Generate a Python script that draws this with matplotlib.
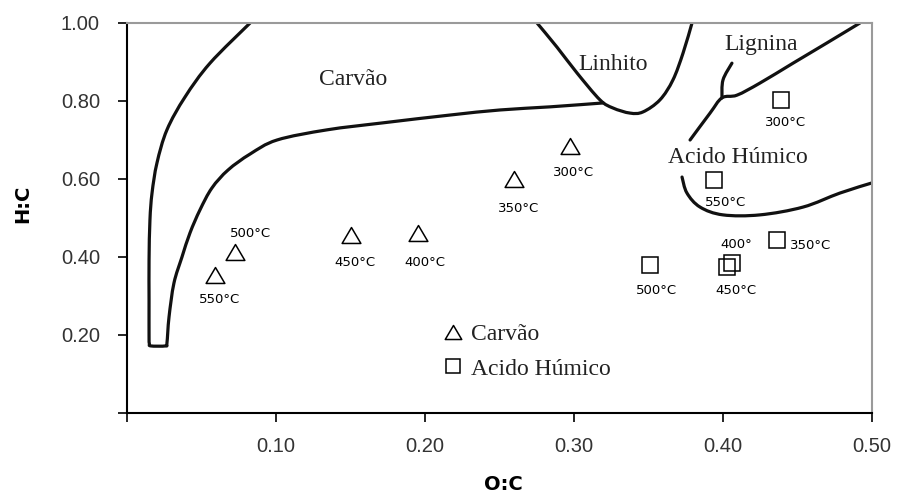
import matplotlib
matplotlib.use("Agg")
import matplotlib.pyplot as plt
import numpy as np
from matplotlib.path import Path
from matplotlib.patches import PathPatch
from matplotlib.ticker import FuncFormatter, MultipleLocator

# --- van Krevelen diagram data (O:C vs H:C) ---
carvao_temps = ["550°C", "500°C", "450°C", "400°C", "350°C", "300°C"]
carvao_oc = [0.059, 0.0725, 0.150, 0.195, 0.260, 0.297]
carvao_hc = [0.354, 0.413, 0.456, 0.462, 0.600, 0.685]

humico_temps = ["300°C", "550°C", "350°C", "500°C", "400°", "450°C"]
humico_oc = [0.439, 0.394, 0.436, 0.351, 0.406, 0.403]
humico_hc = [0.803, 0.597, 0.444, 0.379, 0.385, 0.374]

# region boundaries (O:C, H:C)
coal_oc = [0.0826, 0.0557, 0.0389, 0.0268, 0.0201, 0.0168, 0.0154, 0.0148, 0.0148,
           0.0148, 0.0150, 0.0160, 0.0258, 0.0268, 0.0282, 0.0315, 0.0369, 0.0423,
           0.0490, 0.0570, 0.0678, 0.0826, 0.1007, 0.1342, 0.1718, 0.2168, 0.2503,
           0.2839, 0.3195]
coal_hc = [1.000, 0.897, 0.810, 0.726, 0.641, 0.564, 0.495, 0.392, 0.290,
           0.200, 0.178, 0.172, 0.172, 0.179, 0.246, 0.333, 0.400, 0.462,
           0.521, 0.577, 0.623, 0.664, 0.700, 0.726, 0.744, 0.764, 0.777,
           0.785, 0.795]

linhito_oc = [0.2752, 0.2886, 0.3020, 0.3174, 0.3262, 0.3376, 0.3463, 0.3577, 0.3664, 0.3732, 0.3792]
linhito_hc = [1.000, 0.938, 0.872, 0.803, 0.782, 0.769, 0.772, 0.803, 0.854, 0.923, 1.000]

lignina_oc = [0.4919, 0.4698, 0.4470, 0.4248, 0.4094, 0.3993, 0.3913, 0.3779]
lignina_hc = [1.000, 0.949, 0.897, 0.846, 0.815, 0.808, 0.769, 0.700]

lignina_branch_oc = [0.3993, 0.4000, 0.4060]
lignina_branch_hc = [0.808, 0.854, 0.897]

humico_edge_oc = [0.3725, 0.3758, 0.3846, 0.4000, 0.4248, 0.4537, 0.4785, 0.5000]
humico_edge_hc = [0.605, 0.564, 0.528, 0.508, 0.508, 0.528, 0.564, 0.590]

region_names = ["Carvão", "Linhito", "Lignina", "Acido Húmico"]
region_oc = [0.1517, 0.3262, 0.4255, 0.4097]
region_hc = [0.841, 0.879, 0.931, 0.641]

# label offsets (points) for each temperature tag
carvao_off = [(3, -18), (11.5, 13.5), (3.5, -20), (5, -21.5), (3, -21), (3, -19)]
humico_off = [(3.5, -16), (8.5, -16), (9.5, -4), (5, -18), (3, 13), (6, -16.5)]


def smooth_path(xs, ys):
    """Bezier path passing through the given vertices (Catmull-Rom tangents)."""
    p = np.column_stack([xs, ys]).astype(float)
    ext = np.vstack([p[0], p, p[-1]])
    verts = [p[0]]
    codes = [Path.MOVETO]
    for i in range(1, len(ext) - 2):
        p0, p1, p2, p3 = ext[i - 1], ext[i], ext[i + 1], ext[i + 2]
        verts += [p1 + (p2 - p0) / 6.0, p2 - (p3 - p1) / 6.0, p2]
        codes += [Path.CURVE4] * 3
    return Path(verts, codes)


fig = plt.figure(figsize=(8.97, 4.96), dpi=100)
ax = fig.add_axes([127 / 897, 1 - 413 / 496, 745 / 897, 390 / 496])

for xs, ys in [(coal_oc, coal_hc), (linhito_oc, linhito_hc), (lignina_oc, lignina_hc),
               (lignina_branch_oc, lignina_branch_hc), (humico_edge_oc, humico_edge_hc)]:
    ax.add_patch(PathPatch(smooth_path(xs, ys), fill=False, edgecolor="#111111",
                           lw=2.3, joinstyle="round", capstyle="round"))

tri = Path([(0, 0.85), (-1, -0.85), (1, -0.85), (0, 0.85)],
           [Path.MOVETO, Path.LINETO, Path.LINETO, Path.CLOSEPOLY])

ax.plot(carvao_oc, carvao_hc, ls="none", marker=tri, ms=13.5, mfc="white",
        mec="black", mew=1.1, label="Carvão")
ax.plot(humico_oc, humico_hc, ls="none", marker="s", ms=11, mfc="none",
        mec="black", mew=1.1, label="Acido Húmico")

tag_kw = dict(textcoords="offset points", ha="center", va="center",
              fontsize=9.5, family="DejaVu Sans", color="black")
for t, x, y, off in zip(carvao_temps, carvao_oc, carvao_hc, carvao_off):
    ax.annotate(t, (x, y), xytext=off, **tag_kw)
for t, x, y, off in zip(humico_temps, humico_oc, humico_hc, humico_off):
    kw = dict(tag_kw)
    if t == "350°C":
        kw["ha"] = "left"
    ax.annotate(t, (x, y), xytext=off, **kw)

for name, x, y in zip(region_names, region_oc, region_hc):
    ax.text(x, y, name, ha="center", va="baseline", fontsize=17,
            family="Liberation Serif", color="#222222")

ax.set_xlim(0, 0.5)
ax.set_ylim(0, 1.0)
ax.xaxis.set_major_locator(MultipleLocator(0.1))
ax.yaxis.set_major_locator(MultipleLocator(0.2))
fmt = FuncFormatter(lambda v, p: "" if abs(v) < 1e-9 else f"{v:.2f}")
ax.xaxis.set_major_formatter(fmt)
ax.yaxis.set_major_formatter(fmt)
ax.tick_params(direction="out", length=6.5, width=1.2, color="black",
               labelsize=14.5, labelcolor="#333333")
ax.tick_params(axis="y", pad=13)
ax.tick_params(axis="x", pad=11)
for lab in ax.get_xticklabels() + ax.get_yticklabels():
    lab.set_family("Liberation Sans")

for s in ["left", "bottom"]:
    ax.spines[s].set_color("black")
    ax.spines[s].set_linewidth(1.5)
for s in ["top", "right"]:
    ax.spines[s].set_color("#9a9a9a")
    ax.spines[s].set_linewidth(1.5)

ax.set_xlabel("O:C", fontsize=14, fontweight="bold", family="DejaVu Sans")
ax.set_ylabel("H:C", fontsize=14, fontweight="bold", family="DejaVu Sans")
ax.xaxis.set_label_coords(0.505, -0.159)
ax.yaxis.set_label_coords(-0.1275, 0.536)

ax.legend(loc="center left", bbox_to_anchor=(0.4248, 0.1576), frameon=False,
          borderpad=0, borderaxespad=0, handlelength=0.8, handletextpad=0.35,
          labelspacing=0.55, markerscale=0.88,
          prop={"family": "Liberation Serif", "size": 17})
for txt in ax.get_legend().get_texts():
    txt.set_color("#222222")

fig.savefig("out.png", dpi=100)
